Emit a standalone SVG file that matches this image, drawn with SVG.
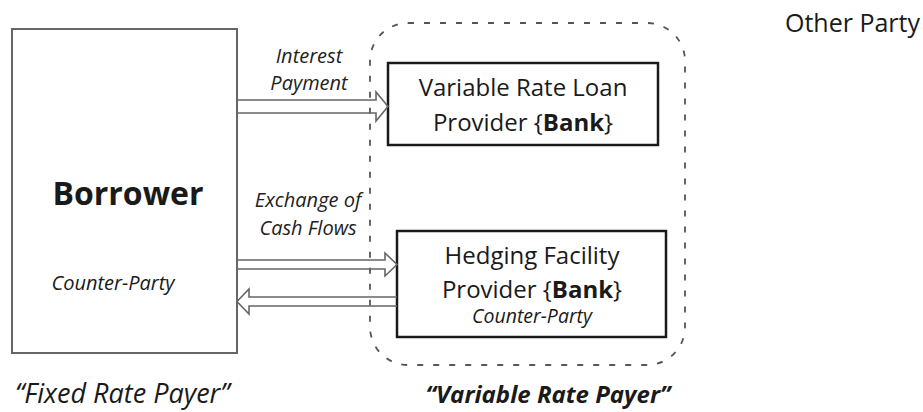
<svg xmlns="http://www.w3.org/2000/svg" width="923" height="412" viewBox="0 0 923 412">
<style>
  .t{font-family:"Open Sans","Noto Sans","Liberation Sans",sans-serif;fill:#1a1a1a}
  .it{font-style:italic}
  .b{font-weight:bold}
  .lbl{font-size:20px;font-style:italic;fill:#222}
  .arrow{fill:none;stroke:#666;stroke-width:1.6;stroke-linejoin:miter}
  .box{fill:none;stroke:#1a1a1a;stroke-width:2.5}
</style>
<rect width="923" height="412" fill="#fff"/>
<g id="group-variable">
  <rect x="370" y="23" width="315" height="342" rx="38" ry="38" fill="none" stroke="#555" stroke-width="1.8" stroke-dasharray="6 10"/>
</g>
<g id="borrower">
  <rect x="12" y="29" width="225" height="324" fill="none" stroke="#666" stroke-width="2"/>
  <text class="t b" x="128" y="205" font-size="32" text-anchor="middle" fill="#222">Borrower</text>
  <text class="t it" x="113" y="290" font-size="20" text-anchor="middle" fill="#555">Counter-Party</text>
</g>
<g id="loan-provider">
  <rect class="box" x="388" y="63" width="270" height="82"/>
  <text class="t" x="523" y="96" font-size="24" text-anchor="middle">Variable Rate Loan</text>
  <text class="t" x="523" y="131" font-size="24" text-anchor="middle">Provider {<tspan font-weight="bold">Bank</tspan>}</text>
</g>
<g id="hedging-provider">
  <rect class="box" x="397" y="231" width="269" height="106"/>
  <text class="t" x="532" y="264" font-size="24" text-anchor="middle">Hedging Facility</text>
  <text class="t" x="532" y="298" font-size="24" text-anchor="middle">Provider {<tspan font-weight="bold">Bank</tspan>}</text>
  <text class="t it" x="532" y="323" font-size="19.5" text-anchor="middle" fill="#333">Counter-Party</text>
</g>
<g id="other-party">
  <text class="t" x="920" y="32" font-size="25" text-anchor="end">Other Party</text>
</g>
<g id="captions">
  <text class="t it" x="15" y="403" font-size="27" fill="#333">“Fixed Rate Payer”</text>
  <text class="t it b" x="548" y="403" font-size="24" text-anchor="middle" fill="#333">“Variable Rate Payer”</text>
</g>
<g id="connectors">
  <path class="arrow" d="M238,100 H376 V92 L388,106.5 L376,121 V113 H238"/>
  <path class="arrow" d="M237,260 H385 V253 L397,264.5 L385,276 V269 H237"/>
  <path class="arrow" d="M397,297 H249 V289 L237,301.5 L249,314 V306 H397"/>
  <text class="t lbl" x="309" y="63" text-anchor="middle">Interest</text>
  <text class="t lbl" x="309" y="90" text-anchor="middle">Payment</text>
  <text class="t lbl" x="308" y="207" text-anchor="middle">Exchange of</text>
  <text class="t lbl" x="308" y="235" text-anchor="middle">Cash Flows</text>
</g>
</svg>
